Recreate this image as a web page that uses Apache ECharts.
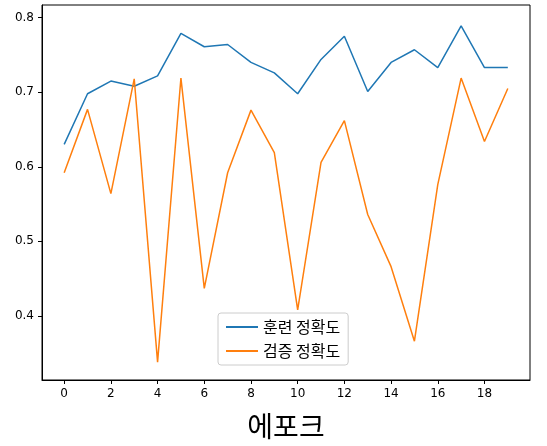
<!DOCTYPE html><html><head><meta charset="utf-8"><script src="https://cdn.jsdelivr.net/npm/echarts@6/dist/echarts.min.js"></script></head><body style="margin:0"><div id="c" style="width:547px;height:446px"></div><script>
const epochs=[0,1,2,3,4,5,6,7,8,9,10,11,12,13,14,15,16,17,18,19];
const trainAcc=[0.63,0.698,0.715,0.708,0.722,0.779,0.761,0.764,0.740,0.726,0.698,0.744,0.775,0.701,0.740,0.757,0.733,0.789,0.733,0.733];
const valAcc=[0.592,0.677,0.564,0.718,0.338,0.719,0.437,0.592,0.676,0.619,0.408,0.606,0.662,0.536,0.466,0.366,0.576,0.719,0.634,0.705];
const xTicks=[0,2,4,6,8,10,12,14,16,18];
const yTicks=[0.4,0.5,0.6,0.7,0.8];
const ch=echarts.init(document.getElementById('c'));
const ax={axisLine:{show:true,onZero:false,lineStyle:{color:'#000'}},axisTick:{show:true,inside:false,length:4,lineStyle:{color:'#000'}},splitLine:{show:false},axisLabel:{color:'#000',fontSize:12,fontFamily:'DejaVu Sans'}};
ch.setOption({animation:false,
grid:{left:42,right:17,top:5,bottom:66,show:true,borderColor:'#000',borderWidth:1},
xAxis:Object.assign({},ax,{type:'value',min:-0.95,max:19.95,name:'에포크',nameLocation:'middle',nameGap:32,nameTextStyle:{fontSize:28,color:'#000',fontFamily:'Noto Sans CJK KR'},axisTick:Object.assign({},ax.axisTick,{customValues:xTicks}),axisLabel:Object.assign({},ax.axisLabel,{customValues:xTicks,margin:8})}),
yAxis:Object.assign({},ax,{type:'value',min:0.314,max:0.817,axisTick:Object.assign({},ax.axisTick,{customValues:yTicks}),axisLabel:Object.assign({},ax.axisLabel,{customValues:yTicks,formatter:v=>v.toFixed(1)})}),
legend:{orient:'vertical',left:218,top:313,backgroundColor:'#fff',borderColor:'#ccc',borderWidth:1,borderRadius:3,padding:[6,8],itemGap:8,itemWidth:32,itemHeight:2,icon:'rect',textStyle:{fontSize:16,fontFamily:'Noto Sans CJK KR',color:'#000'},data:['훈련 정확도','검증 정확도']},
series:[
{name:'훈련 정확도',type:'line',data:epochs.map((e,i)=>[e,trainAcc[i]]),showSymbol:false,lineStyle:{color:'#1f77b4',width:1.5},itemStyle:{color:'#1f77b4'}},
{name:'검증 정확도',type:'line',data:epochs.map((e,i)=>[e,valAcc[i]]),showSymbol:false,lineStyle:{color:'#ff7f0e',width:1.5},itemStyle:{color:'#ff7f0e'}}
]});
</script></body></html>
